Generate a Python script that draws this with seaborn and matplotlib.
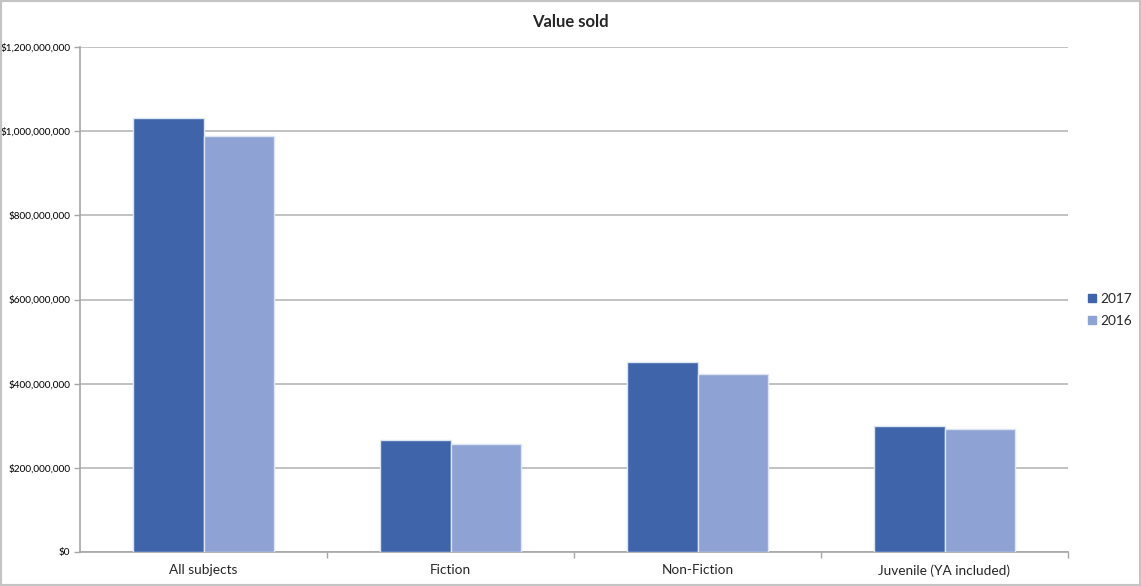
import matplotlib
matplotlib.use("Agg")
import matplotlib.pyplot as plt
import matplotlib.ticker as mticker
from matplotlib.patches import Rectangle
from matplotlib.lines import Line2D
import seaborn as sns
import pandas as pd

categories = ["All subjects", "Fiction", "Non-Fiction", "Juvenile (YA included)"]
value_2017 = [1031000000, 267000000, 452000000, 299000000]
value_2016 = [988000000, 255500000, 422000000, 292600000]
years = ["2017", "2016"]
colors = {"2017": "#3F64AA", "2016": "#8EA3D3"}

df = pd.DataFrame({
    "subject": categories * 2,
    "year": ["2017"] * 4 + ["2016"] * 4,
    "value": value_2017 + value_2016,
})

sns.set_theme(style="white")
plt.rcParams["font.family"] = ["Lato", "DejaVu Sans"]

W, H = 1141, 586
fig = plt.figure(figsize=(W / 100, H / 100), dpi=100)
ax = fig.add_axes([80 / W, 1 - 552 / H, (1068 - 80) / W, (552 - 47) / H])

sns.barplot(data=df, x="subject", y="value", hue="year", hue_order=years,
            palette=colors, width=0.57, edgecolor="#dde4f2", linewidth=1.0,
            saturation=1, ax=ax, zorder=3)

ax.set_ylim(0, 1200000000)
ax.set_xlim(-0.5, 3.5)
ax.set_yticks(range(0, 1200000001, 200000000))
ax.yaxis.set_major_formatter(mticker.FuncFormatter(lambda v, p: f"${v:,.0f}"))
ax.yaxis.grid(True, color="#b8b8b8", linewidth=1.2, zorder=0)
ax.set_axisbelow(True)
ax.set_xlabel("")
ax.set_ylabel("")

for s in ["top", "right"]:
    ax.spines[s].set_visible(False)
for s in ["left", "bottom"]:
    ax.spines[s].set_color("#a6a6a6")
    ax.spines[s].set_linewidth(1.2)

ax.tick_params(axis="y", labelsize=7.2, colors="#a6a6a6", labelcolor="black",
               length=4, width=1, pad=3, left=True)
ax.set_xticks([0, 1, 2, 3])
ax.set_xticklabels(categories, fontsize=9.8)
ax.tick_params(axis="x", length=0, pad=9)
ax.set_xticks([0.5, 1.5, 2.5, 3.5], minor=True)
ax.tick_params(axis="x", which="minor", length=4, width=1, color="#a6a6a6",
               bottom=True)

ax.get_legend().remove()
handles = [Line2D([], [], marker="s", linestyle="", markersize=5.5,
                  color=colors[y]) for y in years]
fig.legend(handles, years, loc="center left",
           bbox_to_anchor=(1073 / W, 1 - 310 / H), frameon=False,
           fontsize=9.8, handletextpad=0.1, labelspacing=0.75,
           handlelength=1.0)

fig.text(570 / W, 1 - 22 / H, "Value sold", ha="center", va="center",
         fontsize=12, fontweight="bold")

fig.patches.append(Rectangle((0, 0), 1, 1, transform=fig.transFigure,
                             fill=False, edgecolor="#c4c4c4", linewidth=3))

fig.savefig("out.png", dpi=100)
